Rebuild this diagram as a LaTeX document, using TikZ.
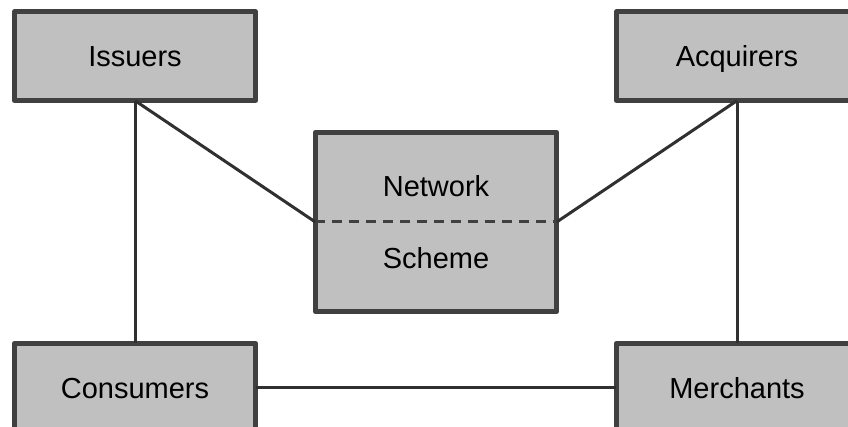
\documentclass[tikz,border=0pt]{standalone}
\usepackage{fontspec}
\setmainfont{Liberation Sans}
\definecolor{boxfill}{HTML}{C0C0C0}
\definecolor{boxline}{HTML}{404040}
\definecolor{conn}{HTML}{303030}
\begin{document}
\begin{tikzpicture}[x=1pt,y=-1pt,
  entity/.style={draw=boxline, fill=boxfill, line width=4.6pt, line join=round,
    minimum width=241.4pt, minimum height=88.9pt, inner sep=0pt, outer sep=0pt,
    text height=21pt, text depth=0pt,
    font=\fontsize{29}{34}\selectfont, text=black},
  netbox/.style={entity, minimum height=179.4pt},
  label/.style={font=\fontsize{29}{34}\selectfont, text=black, inner sep=0pt,
    text height=21pt, text depth=0pt},
  link/.style={draw=conn, line width=3pt}]
\useasboundingbox (0,0) rectangle (848,427);
\clip (0,0) rectangle (848,427);
\node[entity] (iss) at (135,56.2) {Issuers};
\node[entity] (acq) at (737,56.2) {Acquirers};
\node[entity] (con) at (135,387.8) {Consumers};
\node[entity] (mer) at (737,387.8) {Merchants};
\node[netbox] (net) at (436,222) {};
\node[label] (nettxt) at (436,186) {Network};
\node[label] (schtxt) at (436,258) {Scheme};
\draw[draw=boxline, line width=3pt, dash pattern=on 10pt off 7pt] (net.west) -- (net.east);
\draw[link] (iss.south) -- (net.west);
\draw[link] (acq.south) -- (net.east);
\draw[link] (iss.south) -- (con.north);
\draw[link] (acq.south) -- (mer.north);
\draw[link] (con.east) -- (mer.west);
\end{tikzpicture}
\end{document}
